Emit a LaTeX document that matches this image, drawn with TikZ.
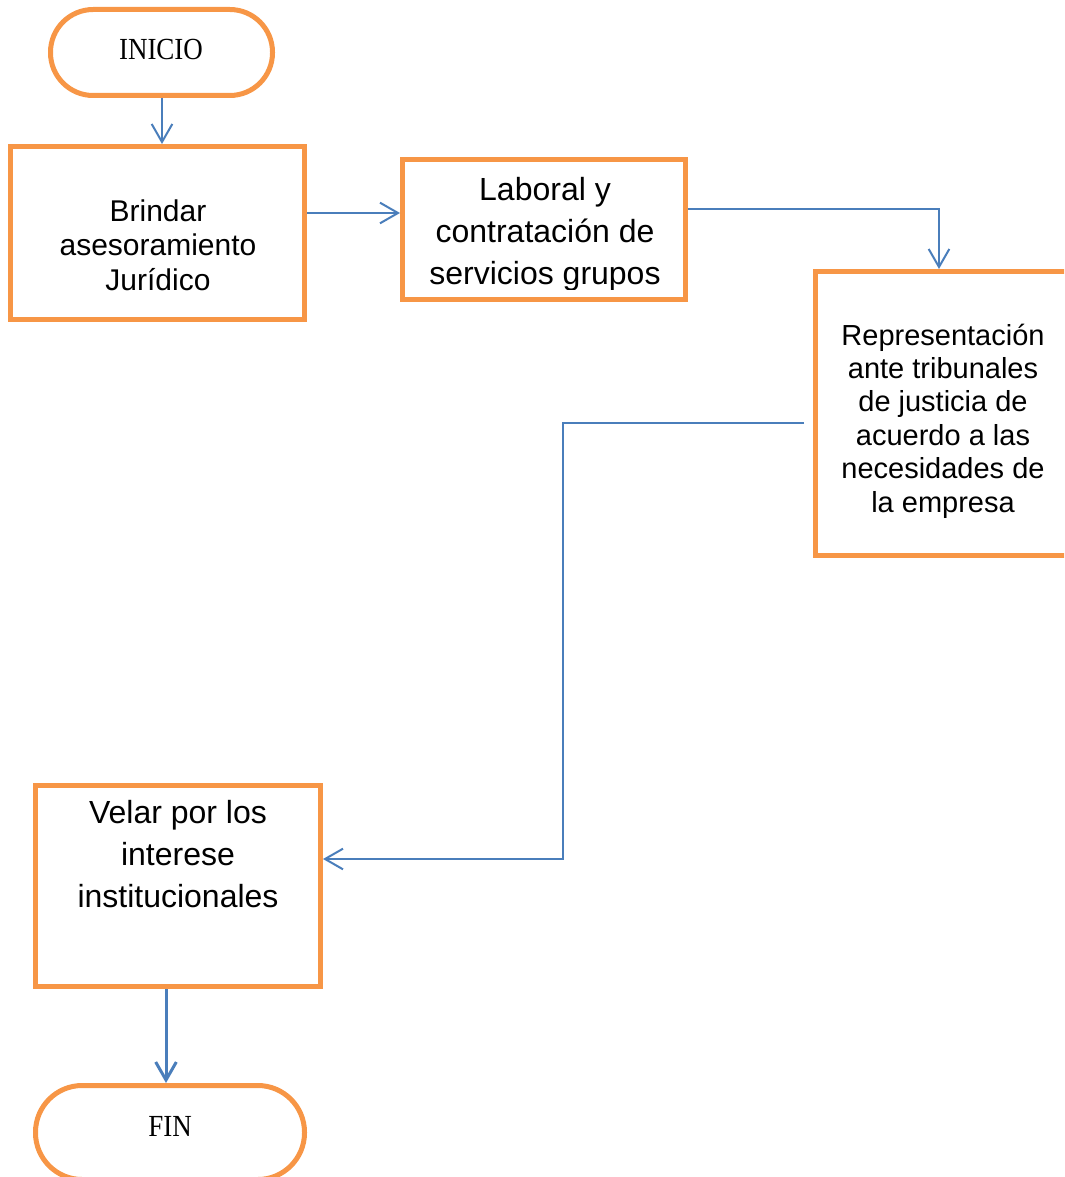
\documentclass[tikz,border=0pt]{standalone}
\usepackage{fontspec}
\setmainfont{Liberation Sans}
\newfontfamily\termfont[FakeStretch=0.88]{Liberation Serif}
\usetikzlibrary{arrows.meta,fit}
\definecolor{boxorange}{HTML}{F79646}
\definecolor{flowblue}{HTML}{4A7EBB}
\begin{document}
\begin{tikzpicture}[x=0.75pt,y=-0.75pt,
  box/.style={draw=boxorange,line width=3.75pt,inner sep=0pt},
  term/.style={box,rounded corners=#1},
  flow/.style={draw=flowblue,line width=1.5pt,
    -{Straight Barb[length=13.5pt,width=15.5pt]}},
  termtext/.style={font=\termfont\fontsize{23pt}{27pt}\selectfont},
  textA/.style={align=center,font=\fontsize{22.5pt}{25.8pt}\selectfont},
  textB/.style={align=center,font=\fontsize{24pt}{31.5pt}\selectfont},
  textC/.style={align=center,font=\fontsize{21.75pt}{25.1pt}\selectfont}]
\useasboundingbox (0,0) rectangle (1064,1177);
\clip (0,0) rectangle (1064,1177);

% terminals
\node[term=32pt, fit={(50.5,9.5) (272.5,95.5)}] (ini) {};
\node[termtext] (tini) at (161,49) {INICIO};
\node[term=35pt, fit={(35.5,1085.5) (304.5,1179.5)}] (fin) {};
\node[termtext] (tfin) at (170,1126) {FIN};

% process boxes
\node[box, fit={(10.5,146.5) (304.5,319.5)}] (b1) {};
\node[textA] (t1) at (158,245) {Brindar\\asesoramiento\\Jurídico};

\node[box, fit={(402.5,159.5) (685.5,299.5)}] (lab) {};
\begin{scope}
  \clip (400,150) rectangle (690,289);
  \node[textB] (t2) at (545,234) {Laboral y\\contratación de\\servicios grupos};
\end{scope}

\node[box, fit={(815.5,271.5) (1075,555.5)}] (rep) {};
\node[textC] (t3) at (943,421) {Representación\\ante tribunales\\de justicia de\\acuerdo a las\\necesidades de\\la empresa};

\node[box, fit={(35.5,785.5) (320.5,986.5)}] (vel) {};
\node[textB] (t4) at (178,854) {Velar por los\\interese\\institucionales};

% connectors
\coordinate (repout) at ([xshift=-6.75pt]rep.west);
\draw[flow] (ini.south -| 162,0) -- (b1.north -| 162,0);
\draw[flow] (b1.east |- 0,213) -- (lab.west |- 0,213);
\draw[flow] (lab.east |- 0,209) -| (rep.north -| 939,0);
\draw[flow] (repout |- 0,423) -| (563,859) -- (vel.east |- 0,859);
\draw[flow,line width=2.25pt] (vel.south -| 166,0) -- (fin.north -| 166,0);
\end{tikzpicture}
\end{document}
